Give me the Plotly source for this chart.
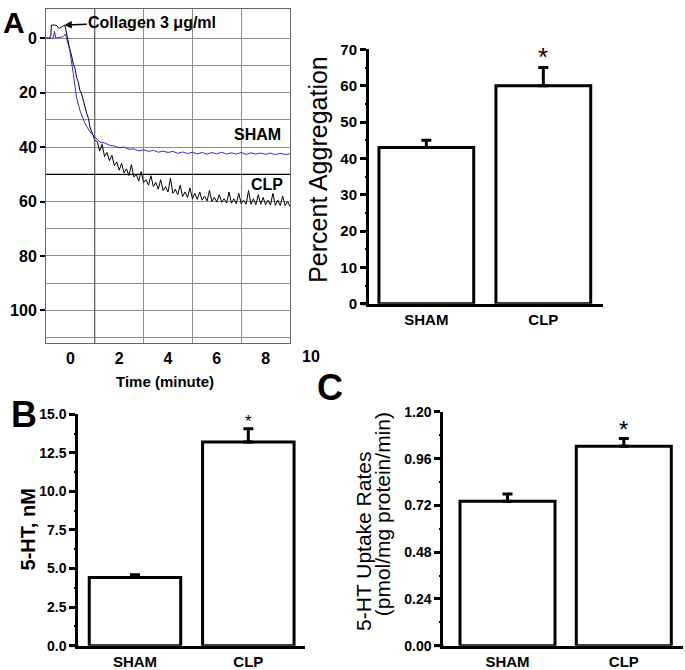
import plotly.graph_objects as go

FONT = "Arial, Liberation Sans, sans-serif"

# ---- panel A, aggregation traces (percent aggregation, 0 at top) ----
sham_time = [-1.0, -0.7, -0.65, -0.6, -0.3, -0.2, -0.16, -0.02, 0.12, 0.25, 0.39, 0.6, 0.8, 1.0,
             1.2, 1.4, 1.6, 1.8, 2.0, 2.2, 2.4, 2.6, 2.8, 3.0, 3.2, 3.4, 3.6, 3.8, 4.0, 4.2, 4.4,
             4.6, 4.8, 5.0, 5.2, 5.4, 5.6, 5.8, 6.0, 6.2, 6.4, 6.6, 6.8, 7.0, 7.2, 7.4, 7.6, 7.8,
             8.0, 8.2, 8.4, 8.6, 8.8, 9.0]
sham_agg = [0, 0, -2.5, 0, -0.5, -1.5, 0, 4.7, 13.2, 21.7, 26.5, 31.4, 34.4, 36.2,
            38.1, 38.5, 39.3, 39.6, 40.3, 40.0, 40.8, 40.7, 41.4, 41.0, 41.6, 41.2, 41.9, 41.5,
            42.0, 41.6, 42.3, 41.8, 42.4, 41.9, 42.5, 42.0, 42.6, 42.0, 42.5, 41.9, 42.6, 42.1,
            42.6, 42.0, 42.7, 42.1, 42.6, 42.2, 42.7, 42.2, 42.8, 42.3, 42.7, 42.5]

clp_time = [-1.0, -0.85, -0.8, -0.78, -0.65, -0.55, -0.5, -0.45, -0.35, -0.3, -0.22, -0.15,
            -0.05, 0.05, 0.12, 0.2, 0.25, 0.32, 0.39, 0.46, 0.53, 0.6, 0.67, 0.74, 0.8, 0.9,
            1.0, 1.1, 1.2, 1.3, 1.4, 1.5, 1.6, 1.7, 1.8, 1.9, 2.0, 2.1, 2.2, 2.3, 2.4, 2.5,
            2.6, 2.7, 2.8, 2.9, 3.0, 3.1, 3.2, 3.3, 3.4, 3.5, 3.6, 3.7, 3.8, 3.9, 4.0, 4.1,
            4.2, 4.3, 4.4, 4.5, 4.6, 4.7, 4.8, 4.9, 5.0, 5.1, 5.2, 5.3, 5.4, 5.5, 5.6, 5.7,
            5.8, 5.9, 6.0, 6.1, 6.2, 6.3, 6.4, 6.5, 6.6, 6.7, 6.8, 6.9, 7.0, 7.1, 7.2, 7.3,
            7.4, 7.5, 7.6, 7.7, 7.8, 7.9, 8.0, 8.1, 8.2, 8.3, 8.4, 8.5, 8.6, 8.7, 8.8, 8.9, 9.0]
clp_agg = [0, 0, -1.0, -4.8, -4.8, -4.6, -3.8, -3.6, -4.2, -4.5, -4.6, -1.0,
           3.0, 6.5, 9.6, 11.5, 14.4, 16.0, 19.3, 20.5, 22.9, 26.0, 27.7, 29.5, 32.6, 35.0,
           37.5, 38.0, 41.5, 39.0, 43.5, 42.0, 45.0, 43.0, 46.8, 45.5, 48.5, 46.0, 49.5, 48.0,
           50.5, 46.5, 51.0, 50.0, 52.5, 49.0, 53.0, 52.0, 54.0, 50.5, 54.5, 53.0, 55.5, 52.0,
           56.0, 54.5, 56.5, 51.5, 57.0, 55.5, 57.5, 54.0, 58.2, 56.5, 58.5, 55.0, 59.0, 57.0,
           59.2, 56.5, 59.5, 58.0, 59.8, 56.0, 60.0, 58.5, 60.2, 57.5, 60.3, 59.0, 60.5, 56.5,
           60.6, 59.0, 60.8, 57.0, 60.8, 59.5, 61.0, 56.0, 61.0, 59.0, 61.2, 57.5, 61.0, 58.5,
           61.2, 59.5, 61.3, 57.0, 61.4, 59.5, 61.5, 58.0, 61.5, 60.0, 61.8]

# ---- bar panels ----
groups = ["SHAM", "CLP"]
agg_mean = [43, 60]
agg_sem = [2, 5]
ht_mean = [4.42, 13.2]
ht_sem = [0.17, 0.85]
uptake_mean = [0.742, 1.024]
uptake_sem = [0.036, 0.039]

W, H = 685, 670


def px(x):
    return x / W


def py(y):
    # the page shows a little lower / squeezed vertically, undo that
    return min(1.0, 1 - ((y - 7.8) / 0.977) / H)


fig = go.Figure()

fig.add_trace(go.Scatter(x=clp_time, y=clp_agg, mode="lines",
                         line=dict(color="black", width=1), xaxis="x", yaxis="y"))
fig.add_trace(go.Scatter(x=sham_time, y=sham_agg, mode="lines",
                         line=dict(color="#2f2fd6", width=1), xaxis="x", yaxis="y"))


def bars(mean, sem, xa, ya, w):
    return go.Bar(x=groups, y=mean, width=w, xaxis=xa, yaxis=ya,
                  marker=dict(color="white", line=dict(color="black", width=3)),
                  error_y=dict(type="data", array=sem, arrayminus=[0, 0], symmetric=False,
                               color="black", thickness=3, width=5))


fig.add_trace(bars(agg_mean, agg_sem, "x2", "y2", 0.81))
fig.add_trace(bars(ht_mean, ht_sem, "x3", "y3", 0.807))
fig.add_trace(bars(uptake_mean, uptake_sem, "x4", "y4", 0.817))

# empty traces so the helper (overlay) axes get drawn
for xa, ya in [("x5", "y"), ("x", "y5"), ("x2", "y6"), ("x3", "y7"), ("x4", "y8")]:
    fig.add_trace(go.Scatter(x=[], y=[], xaxis=xa, yaxis=ya, hoverinfo="skip"))

bold15 = dict(family=FONT, size=15, color="black", weight="bold")
bold14 = dict(family=FONT, size=14, color="black", weight="bold")
bold16 = dict(family=FONT, size=16, color="black", weight="bold")


def bar_y(dom, rng, vals, fmt, font, xa):
    return dict(domain=dom, range=rng, tickmode="array", tickvals=vals, tickformat=fmt,
                ticks="outside", ticklen=6, tickwidth=2.5, tickcolor="black", showline=True,
                linewidth=3, linecolor="black", showgrid=False, zeroline=False, tickfont=font,
                anchor=xa)


def minor_y(over, rng, vals, xa):
    # short unlabelled ticks half way between the labelled ones
    return dict(overlaying=over, anchor=xa, side="left", range=rng, tickmode="array",
                tickvals=vals, ticks="outside", ticklen=3, tickwidth=2, tickcolor="black",
                showticklabels=False, showline=False, showgrid=False, zeroline=False)


def bar_x(dom, rng, ya):
    return dict(domain=dom, range=rng, showline=True, linewidth=3, linecolor="black",
                ticks="", showgrid=False, zeroline=False, tickfont=bold15, anchor=ya)


agg_rng, ht_rng, up_rng = [0, 70], [0, 15], [0, 1.2]
trace_rng = [112.1, -10.7]

fig.update_layout(
    width=W, height=H, margin=dict(l=0, r=0, t=0, b=0),
    paper_bgcolor="white", plot_bgcolor="white", showlegend=False,
    font=dict(family=FONT, color="black"),
    # tracing: grid every 1 min / 10 %, labels every 2 min / 20 %
    xaxis=dict(domain=[px(46), px(290)], anchor="y", range=[-1, 9], tickmode="array",
               tickvals=[0, 2, 4, 6, 8], ticks="", showgrid=False, showline=True, mirror=True,
               linecolor="#666", zeroline=False, tickfont=bold16),
    xaxis5=dict(overlaying="x", anchor="y", range=[-1, 9], tickmode="array",
                tickvals=[1, 3, 5, 7], showgrid=True, gridcolor="#8c8c8c", gridwidth=1,
                showticklabels=False, ticks="", showline=False, zeroline=False),
    yaxis=dict(domain=[py(343), py(7.8)], anchor="x", range=trace_rng, tickmode="array",
               tickvals=[0, 10, 20, 30, 40, 50, 60, 70, 80, 90, 100, 110], ticks="",
               showticklabels=False, showgrid=True, gridcolor="#8c8c8c", showline=True,
               mirror=True, linecolor="#666", zeroline=False),
    yaxis5=dict(overlaying="y", anchor="x", side="left", range=trace_rng, tickmode="array",
                tickvals=[0, 20, 40, 60, 80, 100], ticks="outside", ticklen=5, tickwidth=1.5,
                tickcolor="black", showgrid=False, showline=False, zeroline=False,
                tickfont=bold16),
    xaxis2=bar_x([px(369), px(603)], [-0.49, 1.51], "y2"),
    yaxis2=bar_y([py(303.3), py(48.3)], agg_rng, [0, 10, 20, 30, 40, 50, 60, 70], "d",
                 bold15, "x2"),
    yaxis6=minor_y("y2", agg_rng, [5, 15, 25, 35, 45, 55, 65], "x2"),
    xaxis3=bar_x([px(78.3), px(305)], [-0.5, 1.5], "y3"),
    yaxis3=bar_y([py(646), py(414)], ht_rng, [0, 2.5, 5, 7.5, 10, 12.5, 15], ".1f",
                 bold14, "x3"),
    yaxis7=minor_y("y3", ht_rng, [1.25, 3.75, 6.25, 8.75, 11.25, 13.75], "x3"),
    xaxis4=bar_x([px(443.3), px(683)], [-0.552, 1.509], "y4"),
    yaxis4=bar_y([py(646), py(411.7)], up_rng, [0, 0.24, 0.48, 0.72, 0.96, 1.2], ".2f",
                 bold14, "x4"),
    yaxis8=minor_y("y4", up_rng, [0.12, 0.36, 0.6, 0.84, 1.08], "x4"),
)

# darker reference lines on the tracing
fig.add_shape(type="line", xref="x domain", yref="y", x0=0, x1=1, y0=50, y1=50,
              line=dict(color="black", width=1.3))
fig.add_shape(type="line", xref="x", yref="y domain", x0=1, x1=1, y0=0, y1=1,
              line=dict(color="#555", width=1))

# x axis line running a little left of the y axis (bar panels)
for xr, yr, w in [("x2", "y2", 234), ("x3", "y3", 226.7), ("x4", "y4", 239.7)]:
    fig.add_shape(type="line", xref=xr + " domain", yref=yr + " domain", x0=-8 / w, x1=0,
                  y0=0, y1=0, line=dict(color="black", width=3))


def note(text, x, y, size, bold=False, angle=0, xref="paper", yref="paper", **kw):
    fig.add_annotation(text=text, x=x, y=y, xref=xref, yref=yref, showarrow=False,
                       textangle=angle, xanchor="center", yanchor="middle",
                       font=dict(family=FONT, size=size, color="black",
                                 weight="bold" if bold else "normal"), **kw)


note("A", px(14), py(21), 30, True)
note("B", px(23.5), py(414), 36, True)
note("C", px(330), py(387), 36, True)

fig.add_annotation(text="Collagen 3 μg/ml", x=-0.25, y=-4.8, xref="x", yref="y",
                   showarrow=True, ax=88, ay=-3, arrowhead=2, arrowsize=1, arrowwidth=1.5,
                   arrowcolor="black",
                   font=dict(family=FONT, size=16, color="black", weight="bold"))
note("SHAM", 7.66, 35.3, 16, True, xref="x", yref="y")
note("CLP", 8.04, 53.8, 16, True, xref="x", yref="y")
note("10", px(311), py(356), 16, True)
note("Time (minute)", px(165), py(381), 15, True)
note("Percent Aggregation", px(318), py(169), 25, angle=-90)
note("5-HT, nM", px(27.5), py(530), 20, True, angle=-90)
note("5-HT Uptake Rates", px(363.3), py(541.7), 21, angle=-90)
note("(pmol/mg protein/min)", px(383.3), py(514), 21, angle=-90)

note("*", "CLP", py(56), 26, xref="x2")
note("*", "CLP", py(421), 17, xref="x3")
note("*", "CLP", py(429), 24, xref="x4")

fig.write_html(
    "out.html",
    config={"displayModeBar": False},
    post_script=("document.documentElement.style.margin='0';"
                 "document.body.style.margin='0';document.body.style.padding='0';"
                 "document.documentElement.style.overflow='hidden';"
                 "document.body.style.overflow='hidden';"),
)
